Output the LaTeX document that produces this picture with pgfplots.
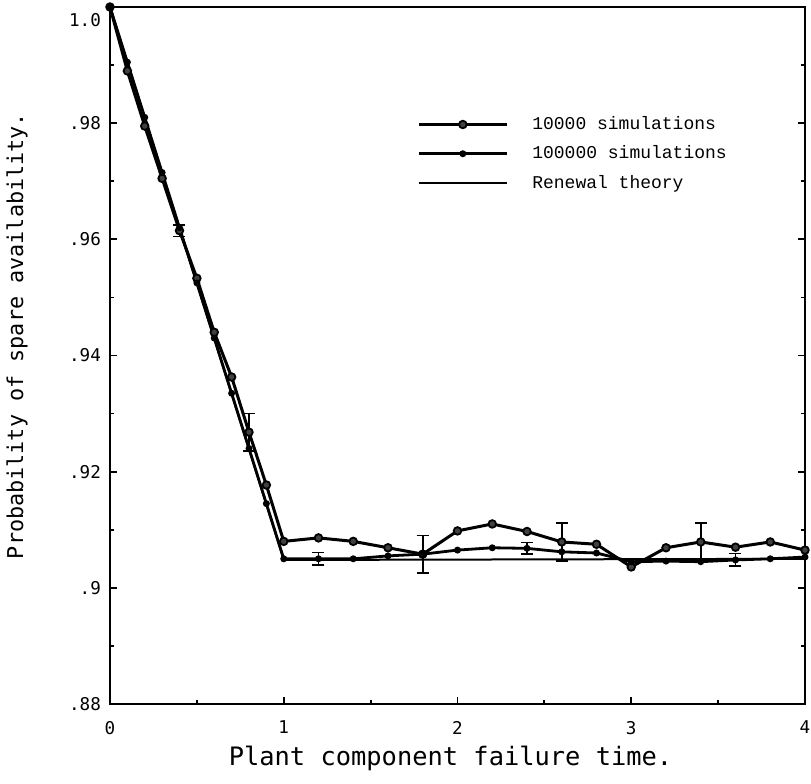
\documentclass[border=0pt]{standalone}
\usepackage{fontspec}
\usepackage{pgfplots}
\pgfplotsset{compat=1.18}
\newfontfamily\labfont{DejaVu Sans Mono}
\newfontfamily\legfont{Liberation Mono}
\begin{document}
\begin{tikzpicture}
\useasboundingbox (0,0) rectangle (405.5pt,-392pt);
\begin{axis}[
  at={(55pt,-3.5pt)}, anchor=north west,
  scale only axis, width=347.5pt, height=348.5pt,
  xmin=0, xmax=4, ymin=0.88, ymax=1.0,
  axis line style={line width=1.1pt},
  xtick={0,1,2,3,4}, xticklabels={0,1,2,3,4},
  minor xtick={0.5,1.5,2.5,3.5},
  ytick={0.88,0.9,0.92,0.94,0.96,0.98},
  yticklabels={.88,.9,.92,.94,.96,.98},
  extra y ticks={1.0}, extra y tick labels={1.0},
  extra y tick style={yticklabel style={yshift=-6.5pt}},
  minor ytick={0.89,0.91,0.93,0.95,0.97,0.99},
  xtick pos=bottom, ytick pos=both,
  tick align=inside,
  major tick length=3.5pt, minor tick length=2pt,
  every tick/.style={line width=0.9pt, black},
  /pgf/number format/assume math mode=true,
  ticklabel style={font=\labfont\fontsize{8.8}{10}\selectfont},
  xticklabel style={yshift=-5pt},
  yticklabel style={xshift=-1pt},
  xlabel={Plant component failure time.},
  ylabel={Probability of spare availability.},
  every axis x label/.style={at={(rel axis cs:0.49,0)}, yshift=-27pt, anchor=center, font=\labfont\fontsize{12.7}{14}\selectfont},
  every axis y label/.style={at={(rel axis cs:0,0.528)}, xshift=-46.5pt, rotate=90, anchor=center, font=\labfont\fontsize{10.9}{13}\selectfont},
  legend style={at={(rel axis cs:0.433,0.855)}, anchor=north west, draw=none, fill=none,
    font=\legfont\fontsize{9}{11}\selectfont, row sep=2.6pt,
    /tikz/every odd column/.append style={column sep=10pt}},
  legend cell align=left,
  legend image code/.code={\draw[mark repeat=2,mark phase=2,#1] plot coordinates {(0pt,0pt) (22pt,0pt) (44pt,0pt)};},
]
\addplot[black, line width=1.5pt, mark=*, mark size=1.9pt, mark options={fill=black!75, line width=0.9pt}] coordinates {
(0,1.0) (0.1,0.9890) (0.2,0.9795) (0.3,0.9705) (0.4,0.9615) (0.5,0.9533)
(0.6,0.9440) (0.7,0.9363) (0.8,0.9268) (0.9,0.9177) (1.0,0.9080)
(1.2,0.9086) (1.4,0.9080) (1.6,0.9069) (1.8,0.9058) (2.0,0.9098)
(2.2,0.9110) (2.4,0.9097) (2.6,0.9079) (2.8,0.9075) (3.0,0.9036)
(3.2,0.9069) (3.4,0.9079) (3.6,0.9070) (3.8,0.9079) (4.0,0.9065)};
\addlegendentry{10000 simulations}
\addplot[black, line width=1.4pt, mark=*, mark size=1.0pt] coordinates {
(0,1.0) (0.1,0.9905) (0.2,0.9810) (0.3,0.9715) (0.4,0.9620) (0.5,0.9525)
(0.6,0.9430) (0.7,0.9335) (0.8,0.9240) (0.9,0.9145) (1.0,0.9050)
(1.2,0.9050) (1.4,0.9050) (1.6,0.9055) (1.8,0.9058) (2.0,0.9065)
(2.2,0.9069) (2.4,0.9068) (2.6,0.9062) (2.8,0.9060) (3.0,0.9045)
(3.2,0.9046) (3.4,0.9045) (3.6,0.9048) (3.8,0.9050) (4.0,0.9053)};
\addlegendentry{100000 simulations}
\addplot[black, line width=1.0pt] coordinates {(0,1.0) (1.0,0.9048) (4.0,0.9050)};
\addlegendentry{Renewal theory}
% error bars
\addplot[draw=none, mark=none, forget plot,
  error bars/.cd, y dir=both, y explicit,
  error mark options={rotate=90, mark size=3pt, line width=0.9pt},
  error bar style={line width=0.9pt, black}] coordinates {
(0.4,0.9615) +- (0,0.001)
(0.8,0.9268) +- (0,0.0032)
(1.8,0.9058) +- (0,0.0032)
(2.6,0.9079) +- (0,0.0033)
(3.4,0.9079) +- (0,0.0033)
(1.2,0.9050) +- (0,0.0011)
(2.4,0.9068) +- (0,0.0010)
(3.6,0.9048) +- (0,0.0011)};
\end{axis}
\end{tikzpicture}
\end{document}
